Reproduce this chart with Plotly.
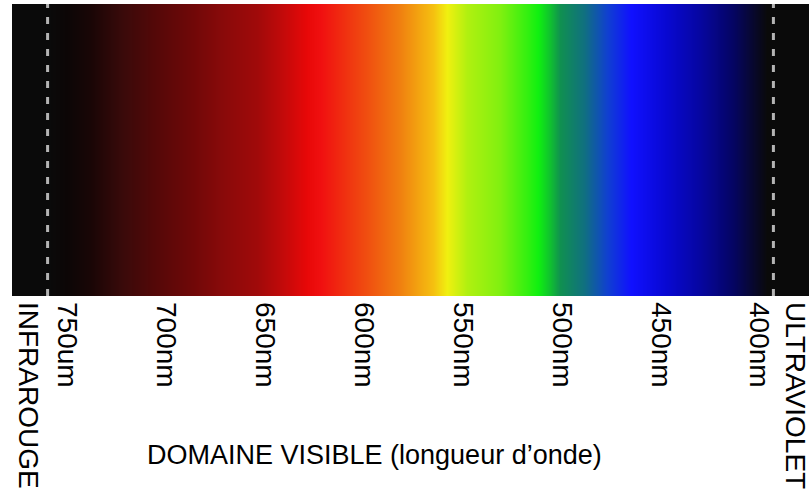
import plotly.graph_objects as go

# colour stops of the visible band (wavelength in nm -> colour)
stop_nm = [778, 760, 750, 738, 722, 705, 688, 671, 654, 642, 629, 622, 612, 598,
           582, 565, 558, 548, 531, 517, 512, 506, 501, 489, 477, 465, 447, 430,
           413, 401, 396, 375]
stop_color = ['#0a0a0a', '#0a0a0a', '#0c0606', '#1a0606', '#3a0a0a', '#550808',
              '#6e0808', '#8a0a0a', '#a00a0a', '#c00a0a', '#e80808', '#f01010',
              '#f02a10', '#f05010', '#f08010', '#f5c010', '#f0f010', '#b0f010',
              '#80f010', '#30f010', '#10f010', '#10c030', '#109050', '#107080',
              '#1040d0', '#1010ff', '#0808d0', '#0606a0', '#050560', '#080820',
              '#0a0a0a', '#0a0a0a']

# limits of the visible domain (dashed lines)
boundary_nm = [760, 393]

# axis labels
tick_nm = [770, 750, 700, 650, 600, 550, 500, 450, 400, 382]
tick_text = ['INFRAROUGE', '750um', '700nm', '650nm', '600nm', '550nm',
             '500nm', '450nm', '400nm', 'ULTRAVIOLET']
axis_title = 'DOMAINE VISIBLE (longueur d’onde)'

wmin, wmax = min(stop_nm), max(stop_nm)
colorscale = [[(w - wmin) / (wmax - wmin), c]
              for w, c in sorted(zip(stop_nm, stop_color))]

fig = go.Figure()
fig.add_trace(go.Heatmap(
    x=stop_nm, y=[0, 1], z=[stop_nm, stop_nm],
    colorscale=colorscale, zmin=wmin, zmax=wmax,
    zsmooth='best', showscale=False, hoverinfo='skip'
))

for b in boundary_nm:
    fig.add_shape(type='line', x0=b, x1=b, y0=0, y1=1, xref='x', yref='paper',
                  line=dict(color='#b4b4b4', width=3, dash='7px,9px'))

fig.add_annotation(text=axis_title, xref='paper', yref='paper', x=0.455, y=-0.545,
                   xanchor='center', yanchor='middle', showarrow=False,
                   font=dict(family='Liberation Sans, Arial', size=27, color='black'))

fig.update_layout(
    width=811, height=498,
    margin=dict(l=12, r=2, t=4, b=202, autoexpand=False),
    paper_bgcolor='white', plot_bgcolor='white',
    showlegend=False,
    xaxis=dict(range=[778, 375], tickvals=tick_nm, ticktext=tick_text,
               tickangle=90, ticks='', showgrid=False, zeroline=False,
               showline=False, automargin=False, ticklabeloverflow='allow',
               ticklabelstandoff=5, fixedrange=True,
               tickfont=dict(family='Liberation Sans, Arial', size=28, color='black')),
    yaxis=dict(range=[0, 1], visible=False, fixedrange=True),
)

# the page body has a default 8px margin; drop it so the figure fills the window
fig.write_html("out.html", config={'displayModeBar': False},
               post_script="document.body.style.margin='0';")
